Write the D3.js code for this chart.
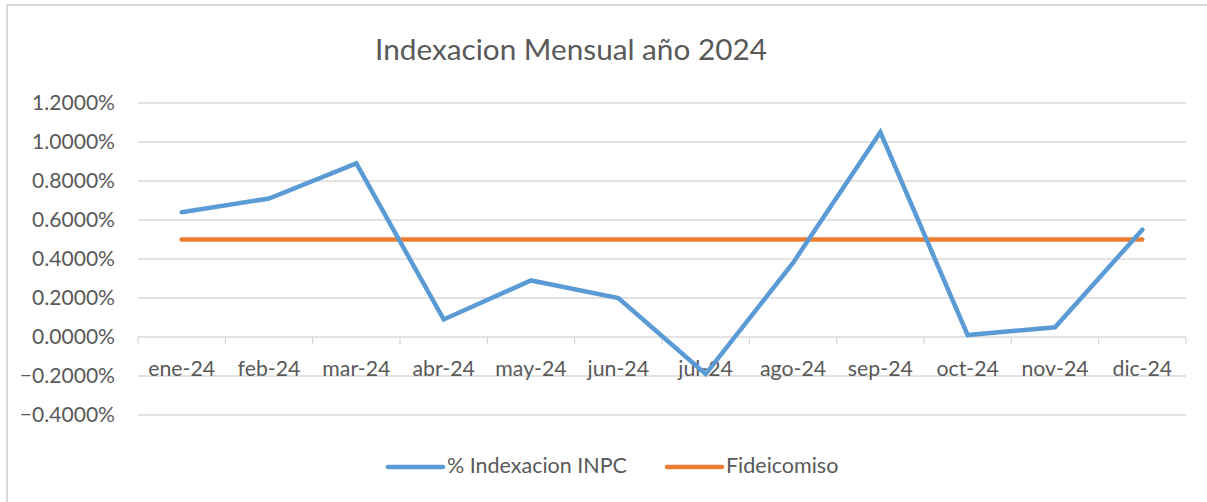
<!DOCTYPE html>
<html><head><meta charset="utf-8">
<script src="https://cdn.jsdelivr.net/npm/d3@7"></script>
<style>html,body{margin:0;padding:0;background:#fff;}svg{display:block;}</style>
</head><body>
<svg id="c" width="1207" height="502"></svg>
<script>
const categories = ["ene-24","feb-24","mar-24","abr-24","may-24","jun-24","jul-24","ago-24","sep-24","oct-24","nov-24","dic-24"];
const inpcValues = [0.64,0.71,0.89,0.09,0.29,0.20,-0.19,0.38,1.05,0.01,0.05,0.55];
const fideicomisoValues = [0.5,0.5,0.5,0.5,0.5,0.5,0.5,0.5,0.5,0.5,0.5,0.5];
const yTicks = [-0.4,-0.2,0,0.2,0.4,0.6,0.8,1.0,1.2];
const seriesNames = ["% Indexacion INPC","Fideicomiso"];
const title = "Indexacion Mensual año 2024";

const FONT = "Lato, 'Open Sans', sans-serif";
const TXT = "#595959";
const svg = d3.select("#c");

function fit(text, w) {
  const t = svg.append("text").attr("font-family", FONT).attr("font-size", 100).text(text);
  const l = t.node().getComputedTextLength();
  t.remove();
  return 100 * w / l;
}

// chart border
svg.append("rect").attr("x",7).attr("y",5).attr("width",1240).attr("height",540)
  .attr("fill","none").attr("stroke","#d9d9d9").attr("stroke-width",2);

const x = d3.scaleBand().domain(categories).range([138,1186]);
const y = d3.scaleLinear().domain([-0.4,1.2]).range([415,103]);

// gridlines
svg.append("g").selectAll("line").data(yTicks).join("line")
  .attr("x1",138).attr("x2",1186).attr("y1",d=>y(d)).attr("y2",d=>y(d))
  .attr("stroke","#d9d9d9").attr("stroke-width",1.3);

// y labels
const yfs = fit("1.2000%", 83);
svg.append("g").selectAll("text").data(yTicks).join("text")
  .attr("x",115).attr("y",d=>y(d)).attr("dy","0.35em").attr("text-anchor","end")
  .attr("font-family",FONT).attr("font-size",yfs).attr("fill",TXT)
  .text(d=>d3.format(".4%")(d/100));

// category axis at zero
const xAxis = d3.axisBottom(x).tickSize(0).tickFormat(d=>d);
const bounds = categories.map(c=>x(c)).concat([x.range()[1]]);
svg.append("g").selectAll("line").data(bounds).join("line")
  .attr("x1",d=>d).attr("x2",d=>d).attr("y1",y(0)).attr("y2",y(0)+7)
  .attr("stroke","#d9d9d9").attr("stroke-width",1.3);
const xfs = fit("ene-24", 67);
const gx = svg.append("g").attr("transform",`translate(0,${y(0)})`).call(xAxis);
gx.select(".domain").remove();
gx.selectAll("text").attr("font-family",FONT).attr("font-size",xfs).attr("fill",TXT)
  .attr("y",0).attr("dy",null).attr("transform",`translate(0,${376-y(0)})`);

// lines
const line = d3.line().x((d,i)=>x(categories[i])+x.bandwidth()/2).y(d=>y(d));
svg.append("path").datum(fideicomisoValues).attr("d",line).attr("fill","none")
  .attr("stroke","#ED7D31").attr("stroke-width",4.5).attr("stroke-linecap","round");
svg.append("path").datum(inpcValues).attr("d",line).attr("fill","none")
  .attr("stroke","#5B9BD5").attr("stroke-width",4.5).attr("stroke-linecap","round").attr("stroke-linejoin","miter");

// title
svg.append("text").attr("x",571).attr("y",60).attr("text-anchor","middle")
  .attr("font-family",FONT).attr("font-size",fit(title,392)).attr("fill",TXT).text(title);

// legend
const lfs = fit(seriesNames[0], 180);
const leg = [{name:seriesNames[0],color:"#5B9BD5",x1:388,x2:443,tx:447},
             {name:seriesNames[1],color:"#ED7D31",x1:667,x2:722,tx:726}];
const lg = svg.append("g").selectAll("g").data(leg).join("g");
lg.append("line").attr("x1",d=>d.x1).attr("x2",d=>d.x2).attr("y1",467).attr("y2",467)
  .attr("stroke",d=>d.color).attr("stroke-width",4.5).attr("stroke-linecap","round");
lg.append("text").attr("x",d=>d.tx).attr("y",473).attr("font-family",FONT).attr("font-size",lfs)
  .attr("fill",TXT).text(d=>d.name);
</script>
</body></html>
